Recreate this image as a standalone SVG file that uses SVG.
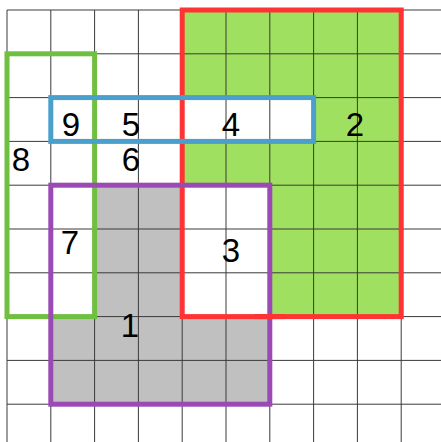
<svg xmlns="http://www.w3.org/2000/svg" width="441" height="442" viewBox="0 0 441 442">
<style>
.grid line{stroke:#3a3a3a;stroke-width:1}
.frame{fill:none;stroke-width:5}
.lbl{font-family:"Liberation Sans",Arial,sans-serif;font-size:33px;fill:#000;text-anchor:middle}
</style>
<rect x="0" y="0" width="441" height="442" fill="#fff"/>
<g id="fills">
<rect x="182.2" y="10" width="219" height="306.6" fill="#a0e060"/>
<rect x="50.8" y="185.2" width="219" height="219" fill="#c0c0c0"/>
<rect x="182.2" y="185.2" width="87.6" height="131.4" fill="#fff"/>
<rect x="50.8" y="185.2" width="43.8" height="131.4" fill="#fff"/>
<rect x="50.8" y="97.6" width="262.8" height="43.8" fill="#fff"/>
</g>
<g class="grid" id="grid">
<line x1="7" y1="10" x2="7" y2="442"/>
<line x1="50.8" y1="10" x2="50.8" y2="442"/>
<line x1="94.6" y1="10" x2="94.6" y2="442"/>
<line x1="138.4" y1="10" x2="138.4" y2="442"/>
<line x1="182.2" y1="10" x2="182.2" y2="442"/>
<line x1="226" y1="10" x2="226" y2="442"/>
<line x1="269.8" y1="10" x2="269.8" y2="442"/>
<line x1="313.6" y1="10" x2="313.6" y2="442"/>
<line x1="357.4" y1="10" x2="357.4" y2="442"/>
<line x1="401.2" y1="10" x2="401.2" y2="442"/>
<line x1="7" y1="10" x2="441" y2="10"/>
<line x1="7" y1="53.8" x2="441" y2="53.8"/>
<line x1="7" y1="97.6" x2="441" y2="97.6"/>
<line x1="7" y1="141.4" x2="441" y2="141.4"/>
<line x1="7" y1="185.2" x2="441" y2="185.2"/>
<line x1="7" y1="229" x2="441" y2="229"/>
<line x1="7" y1="272.8" x2="441" y2="272.8"/>
<line x1="7" y1="316.6" x2="441" y2="316.6"/>
<line x1="7" y1="360.4" x2="441" y2="360.4"/>
<line x1="7" y1="404.2" x2="441" y2="404.2"/>
</g>
<g id="region8">
<rect class="frame" x="7" y="53.8" width="87.6" height="262.8" stroke="#6fbf40"/>
</g>
<g id="region2">
<rect class="frame" x="182.2" y="10" width="219" height="306.6" stroke="#ff3333"/>
</g>
<g id="region1">
<rect class="frame" x="50.8" y="185.2" width="219" height="219" stroke="#9b4ab5"/>
<line x1="255" y1="316.6" x2="285" y2="316.6" stroke="#ff3333" stroke-width="5"/>
</g>
<g id="region4">
<rect class="frame" x="50.8" y="97.6" width="262.8" height="43.8" stroke="#4a9fcc"/>
</g>
<g id="labels">
<text class="lbl" x="71" y="136">9</text>
<text class="lbl" x="131" y="136">5</text>
<text class="lbl" x="231" y="136">4</text>
<text class="lbl" x="355" y="136">2</text>
<text class="lbl" x="21" y="171">8</text>
<text class="lbl" x="131" y="171">6</text>
<text class="lbl" x="70" y="254">7</text>
<text class="lbl" x="231" y="262">3</text>
<text class="lbl" x="130" y="337">1</text>
</g>
</svg>
